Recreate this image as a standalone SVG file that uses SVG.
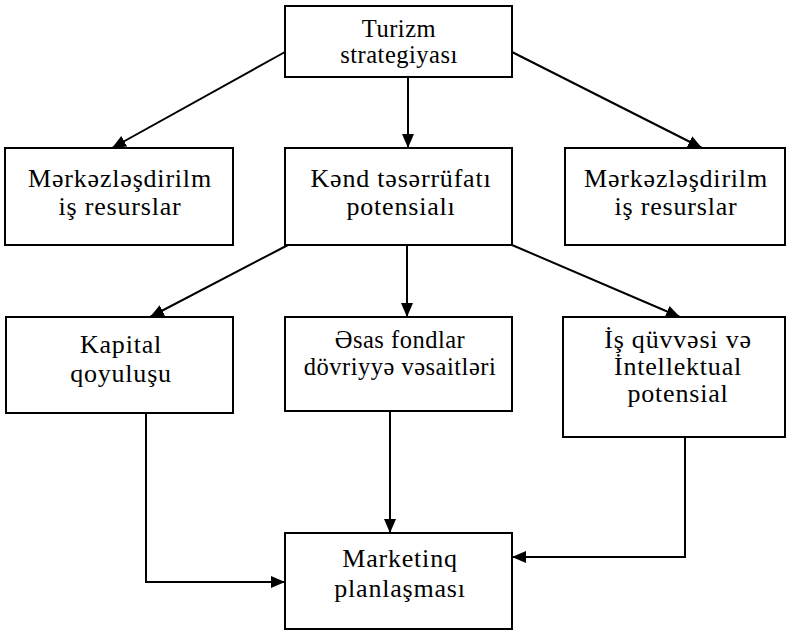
<svg xmlns="http://www.w3.org/2000/svg" width="786" height="631" viewBox="0 0 786 631">
<defs>
<marker id="ah" viewBox="0 0 14 12" refX="14" refY="6" markerWidth="14" markerHeight="12" markerUnits="userSpaceOnUse" orient="auto">
<path d="M0,0 L14,6 L0,12 Z" fill="#000"/>
</marker>
</defs>
<style>
rect{fill:#fff;stroke:#000;stroke-width:2}
text{font-family:"Liberation Serif","Times New Roman",serif;font-size:26px;letter-spacing:0.8px;fill:#000;text-anchor:middle}
.a{font-size:24.5px;letter-spacing:0.5px}
#connectors line,#connectors polyline{stroke:#000;stroke-width:2;fill:none;marker-end:url(#ah)}
</style>
<rect width="786" height="631" style="fill:#fff;stroke:none"/>
<g id="connectors">
<line x1="285" y1="52" x2="112" y2="148"/>
<line x1="408" y1="77" x2="408" y2="148"/>
<line x1="512" y1="52" x2="702" y2="148"/>
<line x1="288" y1="245" x2="150" y2="317"/>
<line x1="407" y1="245" x2="407" y2="317"/>
<line x1="512" y1="245" x2="680" y2="317"/>
<polyline points="146,413 146,582 285,582"/>
<line x1="390" y1="411" x2="390" y2="533"/>
<polyline points="685,437 685,557 512,557"/>
</g>
<g id="turizm"><rect x="285" y="6" width="227" height="71"/><text class="a" x="399" y="37">Turizm</text><text class="a" x="399" y="63">strategiyası</text></g>
<g id="merkez1"><rect x="5" y="148" width="228" height="97"/><text x="120" y="187">Mərkəzləşdirilm</text><text x="120" y="215">iş resurslar</text></g>
<g id="kend"><rect x="285" y="148" width="227" height="97"/><text x="401" y="187">Kənd təsərrüfatı</text><text x="401" y="215">potensialı</text></g>
<g id="merkez2"><rect x="565" y="148" width="220" height="97"/><text x="676" y="187">Mərkəzləşdirilm</text><text x="676" y="215">iş resurslar</text></g>
<g id="kapital"><rect x="6" y="317" width="227" height="96"/><text x="121" y="353">Kapital</text><text x="121" y="382">qoyuluşu</text></g>
<g id="esas"><rect x="285" y="317" width="227" height="94"/><text class="a" x="400" y="348">Əsas fondlar</text><text class="a" x="400" y="375">dövriyyə vəsaitləri</text></g>
<g id="isquvve"><rect x="563" y="317" width="222" height="120"/><text x="678" y="348">İş qüvvəsi və</text><text x="678" y="375">İntellektual</text><text x="678" y="402">potensial</text></g>
<g id="marketinq"><rect x="285" y="533" width="227" height="96"/><text x="400" y="567">Marketinq</text><text x="400" y="597">planlaşması</text></g>
</svg>
